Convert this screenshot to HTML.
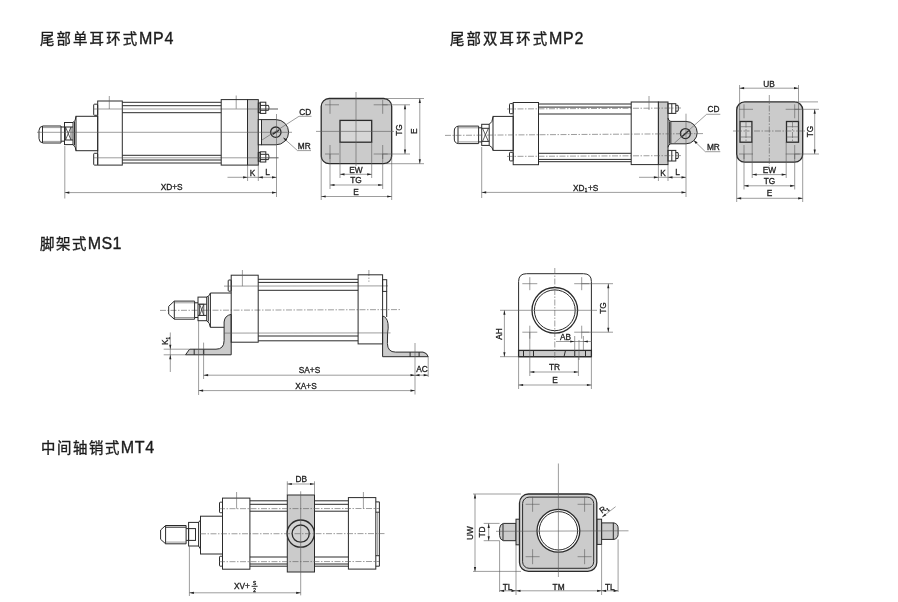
<!DOCTYPE html>
<html><head><meta charset="utf-8"><title>Cylinder mounting types</title>
<style>
html,body{margin:0;padding:0;background:#fff;}
body{width:898px;height:602px;overflow:hidden;font-family:"Liberation Sans",sans-serif;}
svg{display:block;will-change:transform;}
svg text{font-family:"Liberation Sans","Noto Sans CJK SC",sans-serif;fill:#222;stroke:#222;stroke-width:0.3;}
.m{stroke:#2b2b2b;stroke-width:1;}
.m2{stroke:#2b2b2b;stroke-width:1.3;}
.t{stroke:#5a5a5a;stroke-width:0.6;fill:none;}
.cl{stroke:#5a5a5a;stroke-width:0.6;fill:none;stroke-dasharray:6 1.5 1.5 1.5;}
.a{fill:#222;stroke:none;}
.x{stroke:#333;stroke-width:0.8;fill:none;}
svg text.ti{fill:#1c1c1c;stroke:#1c1c1c;stroke-width:0.35;}
</style></head><body>
<svg width="898" height="602" viewBox="0 0 898 602">
<rect x="0" y="0" width="898" height="602" fill="#ffffff"/>
<text class="ti" x="40" y="43.9" font-size="14.4" text-anchor="start" letter-spacing="2.15">尾部单耳环式</text>
<text class="ti" x="139.1" y="43.9" font-size="16" text-anchor="start" letter-spacing="0.7">MP4</text>
<text class="ti" x="450" y="43.9" font-size="14.4" text-anchor="start" letter-spacing="2.15">尾部双耳环式</text>
<text class="ti" x="549.1" y="43.9" font-size="16" text-anchor="start" letter-spacing="0.7">MP2</text>
<text class="ti" x="40" y="248.9" font-size="14.4" text-anchor="start" letter-spacing="1.6">脚架式</text>
<text class="ti" x="87.8" y="248.9" font-size="16" text-anchor="start" letter-spacing="0.3">MS1</text>
<text class="ti" x="41" y="453.0" font-size="14.4" text-anchor="start" letter-spacing="1.6">中间轴销式</text>
<text class="ti" x="120.8" y="453.0" font-size="16" text-anchor="start" letter-spacing="0.7">MT4</text>
<path class="m" d="M61,126 L43,126 Q39,126.5 39,130.5 L39,138.5 Q39,142.5 43,143 L61,143 Z" fill="none"/>
<line class="m" x1="42.5" y1="126" x2="42.5" y2="143" />
<line class="t" x1="43" y1="127.6" x2="61" y2="127.6" />
<line class="t" x1="43" y1="141.4" x2="61" y2="141.4" />
<line class="m" x1="61" y1="127" x2="64.5" y2="127" />
<line class="m" x1="61" y1="141.2" x2="64.5" y2="141.2" />
<rect class="m" x="64.5" y="122.5" width="8.5" height="22.1" fill="none" rx="0"/>
<line class="m" x1="64.5" y1="127" x2="73" y2="127" />
<line class="m" x1="64.5" y1="140" x2="73" y2="140" />
<line class="x" x1="65.5" y1="127" x2="71" y2="140" />
<line class="x" x1="71" y1="127" x2="65.5" y2="140" />
<line class="x" x1="71" y1="127" x2="71" y2="140" />
<line class="x" x1="65.5" y1="127" x2="65.5" y2="140" />
<path class="m" d="M73,122.5 Q75.8,121 76,116.3 M73,144.6 Q75.8,146.5 76,150.7" fill="none"/>
<line class="m" x1="74.5" y1="121.5" x2="74.5" y2="145.3" />
<rect class="m" x="76" y="116.3" width="21.7" height="34.4" fill="none" rx="0"/>
<rect class="m" x="97.7" y="101" width="24.6" height="64.1" fill="none" rx="0"/>
<rect class="m" x="93.7" y="104.2" width="4.0" height="11.1" fill="none" rx="0.8"/>
<rect class="m" x="93.7" y="153.3" width="4.0" height="11.8" fill="none" rx="0.8"/>
<line class="m" x1="122.3" y1="102.3" x2="221.2" y2="102.3" />
<line class="m" x1="122.3" y1="105.7" x2="221.2" y2="105.7" />
<line class="m" x1="122.3" y1="112.7" x2="221.2" y2="112.7" />
<line class="m" x1="122.3" y1="155.3" x2="221.2" y2="155.3" />
<line class="m" x1="122.3" y1="160" x2="221.2" y2="160" />
<line class="m" x1="122.3" y1="163" x2="221.2" y2="163" />
<line class="t" x1="93" y1="109" x2="278" y2="109" />
<line class="t" x1="93" y1="157.8" x2="278.5" y2="157.8" />
<line class="t" x1="109.3" y1="96" x2="109.3" y2="109" />
<line class="t" x1="236.2" y1="95.5" x2="236.2" y2="108.7" />
<rect class="m" x="221.2" y="99.6" width="26.3" height="65.5" fill="none" rx="0"/>
<rect class="m" x="247.5" y="99.6" width="10.8" height="65.5" fill="#cbcbcb" rx="0"/>
<rect class="m" x="258.3" y="103.0" width="1.9" height="9.6" fill="none" rx="0"/>
<rect class="m" x="260.2" y="102.2" width="5.6" height="11.2" fill="none" rx="0"/>
<line class="m" x1="260.2" y1="105.4" x2="265.8" y2="105.4" />
<line class="m" x1="260.2" y1="110.3" x2="265.8" y2="110.3" />
<path class="m" d="M265.8,105.4 L268.5,105.4 Q269.5,107.85 268.5,110.3 L265.8,110.3" fill="none"/>
<rect class="m" x="258.3" y="152.60000000000002" width="1.9" height="8.6" fill="none" rx="0"/>
<rect class="m" x="260.2" y="151.8" width="5.6" height="10.2" fill="none" rx="0"/>
<line class="m" x1="260.2" y1="154.3" x2="265.8" y2="154.3" />
<line class="m" x1="260.2" y1="159.6" x2="265.8" y2="159.6" />
<path class="m" d="M265.8,154.3 L268.5,154.3 Q269.5,156.95 268.5,159.6 L265.8,159.6" fill="none"/>
<path class="m" d="M261.5,119.6 L276,119.6 A12.6,12.6 0 0 1 276,144.8 L261.5,144.8 Z" fill="#cbcbcb"/>
<rect class="m" x="258.3" y="119.6" width="3.2" height="25.2" fill="#fff" rx="0"/>
<circle class="m2" cx="275.8" cy="132.2" r="5.2" fill="#cbcbcb"/>
<line class="t" x1="37" y1="132.3" x2="292" y2="132.3" />
<line class="t" x1="247.5" y1="109" x2="278" y2="109" />
<line class="t" x1="247.5" y1="157.8" x2="278.5" y2="157.8" />
<line class="t" x1="261.5" y1="140.3" x2="299" y2="116.3" />
<line class="t" x1="299" y1="116.3" x2="311.5" y2="116.3" />
<line class="m2" x1="272.6" y1="134.4" x2="279" y2="130.2" />
<text x="305.3" y="114.5" font-size="8.3" text-anchor="middle" >CD</text>
<line class="t" x1="283.5" y1="138" x2="297.5" y2="150.6" />
<line class="t" x1="297.5" y1="150.6" x2="311" y2="150.6" />
<polygon class="a" points="283.2,137.6 287.2,139.4 285.6,141.2"/>
<text x="304.3" y="148.8" font-size="8.3" text-anchor="middle" >MR</text>
<line class="t" x1="276.5" y1="114" x2="276.5" y2="197" />
<line class="t" x1="247.6" y1="165" x2="247.6" y2="181" />
<line class="t" x1="258.3" y1="165" x2="258.3" y2="181" />
<line class="t" x1="227.5" y1="177.3" x2="247.6" y2="177.3" />
<polygon class="a" points="247.6,177.3 243.1,176.20000000000002 243.1,178.4"/>
<line class="t" x1="247.6" y1="177.3" x2="276.5" y2="177.3" />
<polygon class="a" points="258.3,177.3 262.8,176.20000000000002 262.8,178.4"/>
<polygon class="a" points="276.5,177.3 272.0,176.20000000000002 272.0,178.4"/>
<text x="252.6" y="175.6" font-size="8.3" text-anchor="middle" >K</text>
<text x="267.6" y="175" font-size="8.3" text-anchor="middle" >L</text>
<line class="t" x1="64.8" y1="146" x2="64.8" y2="198.5" />
<line class="t" x1="64.8" y1="192.6" x2="276.5" y2="192.6" />
<polygon class="a" points="64.8,192.6 69.3,191.5 69.3,193.7"/>
<polygon class="a" points="276.5,192.6 272.0,191.5 272.0,193.7"/>
<text x="171.7" y="190.3" font-size="8.3" text-anchor="middle" >XD+S</text>
<rect class="m2" x="321.2" y="98.5" width="70.5" height="65.2" fill="#cbcbcb" rx="8"/>
<rect class="m2" x="340" y="120.4" width="31.7" height="21.8" fill="#d6d6d6" rx="0"/>
<line class="t" x1="356" y1="92" x2="356" y2="166" />
<line class="t" x1="316" y1="131.4" x2="394" y2="131.4" />
<line class="t" x1="325" y1="104.8" x2="339" y2="104.8" />
<line class="t" x1="330" y1="99.8" x2="330" y2="113.8" />
<line class="t" x1="373.7" y1="104.8" x2="387.7" y2="104.8" />
<line class="t" x1="382.7" y1="99.8" x2="382.7" y2="113.8" />
<line class="t" x1="325" y1="154" x2="339" y2="154" />
<line class="t" x1="330" y1="145" x2="330" y2="159" />
<line class="t" x1="373.7" y1="154" x2="387.7" y2="154" />
<line class="t" x1="382.7" y1="145" x2="382.7" y2="159" />
<line class="t" x1="382.7" y1="104.8" x2="410" y2="104.8" />
<line class="t" x1="382.7" y1="154" x2="410" y2="154" />
<line class="t" x1="385" y1="98.5" x2="424" y2="98.5" />
<line class="t" x1="385" y1="163.7" x2="424" y2="163.7" />
<line class="t" x1="405" y1="104.8" x2="405" y2="154" />
<polygon class="a" points="405,104.8 403.9,109.3 406.1,109.3"/>
<polygon class="a" points="405,154 403.9,149.5 406.1,149.5"/>
<line class="t" x1="419.8" y1="98.5" x2="419.8" y2="163.7" />
<polygon class="a" points="419.8,98.5 418.7,103.0 420.90000000000003,103.0"/>
<polygon class="a" points="419.8,163.7 418.7,159.2 420.90000000000003,159.2"/>
<text x="401.8" y="130" font-size="8.3" text-anchor="middle" transform="rotate(-90 401.8 130)" >TG</text>
<text x="416.8" y="131.2" font-size="8.3" text-anchor="middle" transform="rotate(-90 416.8 131.2)" >E</text>
<line class="t" x1="340" y1="142.2" x2="340" y2="178" />
<line class="t" x1="371.7" y1="142.2" x2="371.7" y2="178" />
<line class="t" x1="330" y1="154" x2="330" y2="189" />
<line class="t" x1="382.7" y1="154" x2="382.7" y2="189" />
<line class="t" x1="321.2" y1="156" x2="321.2" y2="200" />
<line class="t" x1="391.7" y1="156" x2="391.7" y2="200" />
<line class="t" x1="340" y1="174.3" x2="371.7" y2="174.3" />
<polygon class="a" points="340,174.3 344.5,173.20000000000002 344.5,175.4"/>
<polygon class="a" points="371.7,174.3 367.2,173.20000000000002 367.2,175.4"/>
<line class="t" x1="330" y1="185" x2="382.7" y2="185" />
<polygon class="a" points="330,185 334.5,183.9 334.5,186.1"/>
<polygon class="a" points="382.7,185 378.2,183.9 378.2,186.1"/>
<line class="t" x1="321.2" y1="196.5" x2="391.7" y2="196.5" />
<polygon class="a" points="321.2,196.5 325.7,195.4 325.7,197.6"/>
<polygon class="a" points="391.7,196.5 387.2,195.4 387.2,197.6"/>
<text x="356" y="172.6" font-size="8.3" text-anchor="middle" >EW</text>
<text x="356" y="183.3" font-size="8.3" text-anchor="middle" >TG</text>
<text x="356" y="194.8" font-size="8.3" text-anchor="middle" >E</text>
<path class="m" d="M478.6,126.1 L458.5,126.1 Q454.3,126.6 454.3,131 L454.3,139 Q454.3,143.2 458.5,143.6 L478.6,143.6 Z" fill="none"/>
<line class="m" x1="458" y1="126.1" x2="458" y2="143.6" />
<line class="t" x1="458.5" y1="127.8" x2="478.6" y2="127.8" />
<line class="t" x1="458.5" y1="141.9" x2="478.6" y2="141.9" />
<line class="m" x1="478.6" y1="127.8" x2="481.7" y2="127.8" />
<line class="m" x1="478.6" y1="141.9" x2="481.7" y2="141.9" />
<rect class="m" x="481.7" y="124.3" width="7.5" height="21.1" fill="none" rx="0"/>
<line class="m" x1="481.7" y1="128.3" x2="489.2" y2="128.3" />
<line class="m" x1="481.7" y1="141.4" x2="489.2" y2="141.4" />
<line class="x" x1="482.5" y1="128.3" x2="488.4" y2="141.4" />
<line class="x" x1="488.4" y1="128.3" x2="482.5" y2="141.4" />
<path class="m" d="M489.2,124.3 Q492.6,122.5 493,117 M489.2,145.4 Q492.6,147 493,150" fill="none"/>
<rect class="m" x="493" y="116.4" width="20.2" height="34.0" fill="none" rx="0"/>
<rect class="m" x="513.2" y="102.5" width="25.3" height="62.2" fill="none" rx="0"/>
<rect class="m" x="509.5" y="103.6" width="3.7" height="10.1" fill="none" rx="0.8"/>
<rect class="m" x="509.5" y="152.3" width="3.7" height="8.6" fill="none" rx="0.8"/>
<line class="m" x1="538.5" y1="104" x2="631.2" y2="104" />
<line class="m" x1="538.5" y1="107.1" x2="631.2" y2="107.1" />
<line class="m" x1="538.5" y1="114" x2="631.2" y2="114" />
<line class="m" x1="538.5" y1="153.3" x2="631.2" y2="153.3" />
<line class="m" x1="538.5" y1="159.4" x2="631.2" y2="159.4" />
<line class="m" x1="538.5" y1="161.7" x2="631.2" y2="161.7" />
<rect class="m" x="631.2" y="102" width="27.2" height="62.6" fill="none" rx="0"/>
<rect class="m" x="658.4" y="102" width="9.6" height="62.6" fill="#cbcbcb" rx="0"/>
<rect class="m" x="668" y="103.7" width="7.8" height="9.7" fill="none" rx="0"/>
<line class="m" x1="671.8" y1="103.7" x2="671.8" y2="113.4" />
<path class="m" d="M675.8,105.3 L678,105.3 Q679,108.25 678,111.2 L675.8,111.2" fill="none"/>
<rect class="m" x="668" y="150.4" width="7.8" height="10.6" fill="none" rx="0"/>
<line class="m" x1="671.8" y1="150.4" x2="671.8" y2="161" />
<path class="m" d="M675.8,152.6 L678,152.6 Q679,155.55 678,158.5 L675.8,158.5" fill="none"/>
<path class="m" d="M670.8,121.4 L686,121.4 A11.2,11.2 0 0 1 686,143.8 L670.8,143.8 Z" fill="#cbcbcb"/>
<path class="m" d="M668,118 Q668.4,121 670.8,121.4 M668,147.3 Q668.4,144.2 670.8,143.8" fill="none"/>
<line class="m" x1="669.4" y1="121.4" x2="669.4" y2="143.8" />
<circle class="m2" cx="685.4" cy="133.6" r="5" fill="#cbcbcb"/>
<line class="cl" x1="445" y1="135.4" x2="704" y2="133.6" />
<line class="cl" x1="507" y1="109" x2="682" y2="108" />
<line class="cl" x1="507" y1="156.4" x2="682" y2="155.6" />
<line class="t" x1="649" y1="96" x2="649" y2="110" />
<line class="t" x1="674.2" y1="143.3" x2="706.6" y2="114.3" />
<line class="t" x1="706.6" y1="114.3" x2="720.3" y2="114.3" />
<line class="m2" x1="682.2" y1="136.5" x2="688.6" y2="130.7" />
<text x="713.4" y="111.8" font-size="8.3" text-anchor="middle" >CD</text>
<line class="t" x1="693.9" y1="140.5" x2="705.3" y2="151.7" />
<line class="t" x1="705.3" y1="151.7" x2="720.3" y2="151.7" />
<polygon class="a" points="693.6,140.2 697.6,142.2 695.8,144"/>
<text x="713.4" y="149.6" font-size="8.3" text-anchor="middle" >MR</text>
<line class="t" x1="686" y1="113.7" x2="686" y2="197" />
<line class="t" x1="658.4" y1="164.6" x2="658.4" y2="181" />
<line class="t" x1="668" y1="164.6" x2="668" y2="181" />
<line class="t" x1="639" y1="177.3" x2="658.4" y2="177.3" />
<polygon class="a" points="658.4,177.3 653.9,176.20000000000002 653.9,178.4"/>
<line class="t" x1="658.4" y1="177.3" x2="686" y2="177.3" />
<polygon class="a" points="668,177.3 672.5,176.20000000000002 672.5,178.4"/>
<polygon class="a" points="686,177.3 681.5,176.20000000000002 681.5,178.4"/>
<text x="663" y="175.6" font-size="8.3" text-anchor="middle" >K</text>
<text x="677.5" y="175" font-size="8.3" text-anchor="middle" >L</text>
<line class="t" x1="481.7" y1="147" x2="481.7" y2="198" />
<line class="t" x1="481.7" y1="192.4" x2="686" y2="192.4" />
<polygon class="a" points="481.7,192.4 486.2,191.3 486.2,193.5"/>
<polygon class="a" points="686,192.4 681.5,191.3 681.5,193.5"/>
<text x="573" y="190.5" font-size="8.3" text-anchor="start">XD</text><text x="584.8" y="192" font-size="4.5" text-anchor="start">1</text><text x="588" y="190.5" font-size="8.3" text-anchor="start">+S</text>
<rect class="m2" x="736.7" y="101.9" width="66.0" height="60.3" fill="#cbcbcb" rx="8"/>
<rect class="m2" x="740" y="121.5" width="11.9" height="20.7" fill="#d6d6d6" rx="0"/>
<rect class="m2" x="786.5" y="121.5" width="12.0" height="20.7" fill="#d6d6d6" rx="0"/>
<line class="cl" x1="769.3" y1="95" x2="769.3" y2="166" />
<line class="cl" x1="733" y1="131" x2="806" y2="131" />
<line class="t" x1="740" y1="126.7" x2="751.9" y2="126.7" />
<line class="t" x1="740" y1="137" x2="751.9" y2="137" />
<line class="t" x1="786.5" y1="126.7" x2="798.5" y2="126.7" />
<line class="t" x1="786.5" y1="137" x2="798.5" y2="137" />
<line class="cl" x1="746" y1="121.5" x2="746" y2="142.2" />
<line class="cl" x1="792.5" y1="121.5" x2="792.5" y2="142.2" />
<line class="t" x1="739" y1="109.3" x2="753" y2="109.3" />
<line class="t" x1="744" y1="104.3" x2="744" y2="118.3" />
<line class="t" x1="785.7" y1="109.3" x2="799.7" y2="109.3" />
<line class="t" x1="794.7" y1="104.3" x2="794.7" y2="118.3" />
<line class="t" x1="739" y1="154" x2="753" y2="154" />
<line class="t" x1="744" y1="145" x2="744" y2="159" />
<line class="t" x1="785.7" y1="154" x2="799.7" y2="154" />
<line class="t" x1="794.7" y1="145" x2="794.7" y2="159" />
<line class="t" x1="739.6" y1="85" x2="739.6" y2="121.5" />
<line class="t" x1="798.5" y1="85" x2="798.5" y2="121.5" />
<line class="t" x1="739.6" y1="88.2" x2="798.5" y2="88.2" />
<polygon class="a" points="739.6,88.2 744.1,87.10000000000001 744.1,89.3"/>
<polygon class="a" points="798.5,88.2 794.0,87.10000000000001 794.0,89.3"/>
<text x="769" y="86.5" font-size="8.3" text-anchor="middle" >UB</text>
<line class="t" x1="796" y1="101.9" x2="818" y2="101.9" />
<line class="t" x1="794.7" y1="109.3" x2="819" y2="109.3" />
<line class="t" x1="794.7" y1="154" x2="819" y2="154" />
<line class="t" x1="814.7" y1="109.3" x2="814.7" y2="154" />
<polygon class="a" points="814.7,109.3 813.6,113.8 815.8000000000001,113.8"/>
<polygon class="a" points="814.7,154 813.6,149.5 815.8000000000001,149.5"/>
<text x="812.8" y="131.5" font-size="8.3" text-anchor="middle" transform="rotate(-90 812.8 131.5)" >TG</text>
<line class="t" x1="752.2" y1="142.2" x2="752.2" y2="178" />
<line class="t" x1="786.2" y1="142.2" x2="786.2" y2="178" />
<line class="t" x1="744" y1="154" x2="744" y2="189.5" />
<line class="t" x1="794.7" y1="154" x2="794.7" y2="189.5" />
<line class="t" x1="736.7" y1="155" x2="736.7" y2="202" />
<line class="t" x1="802.7" y1="155" x2="802.7" y2="202" />
<line class="t" x1="752.2" y1="174.6" x2="786.2" y2="174.6" />
<polygon class="a" points="752.2,174.6 756.7,173.5 756.7,175.7"/>
<polygon class="a" points="786.2,174.6 781.7,173.5 781.7,175.7"/>
<line class="t" x1="744" y1="185.8" x2="794.7" y2="185.8" />
<polygon class="a" points="744,185.8 748.5,184.70000000000002 748.5,186.9"/>
<polygon class="a" points="794.7,185.8 790.2,184.70000000000002 790.2,186.9"/>
<line class="t" x1="736.7" y1="198.3" x2="802.7" y2="198.3" />
<polygon class="a" points="736.7,198.3 741.2,197.20000000000002 741.2,199.4"/>
<polygon class="a" points="802.7,198.3 798.2,197.20000000000002 798.2,199.4"/>
<text x="769.5" y="172.8" font-size="8.3" text-anchor="middle" >EW</text>
<text x="769.5" y="184" font-size="8.3" text-anchor="middle" >TG</text>
<text x="769.5" y="196.4" font-size="8.3" text-anchor="middle" >E</text>
<line class="cl" x1="160" y1="310.4" x2="401" y2="309.6" />
<path class="m" d="M231.2,314.4 Q224.6,315.5 224.1,322 L224.1,340.5 Q224.1,349.2 216,349.2 L189.6,349.2 L185.5,354.8 L231.2,354.8 Z" fill="#cbcbcb"/>
<path class="m" d="M382.6,316 Q387,317 388,323.5 Q388.6,328 387.6,333 L387.4,343.5 Q387.6,352.1 395.5,352.1 L423,352.1 Q427,352.8 428.2,356.7 L382.6,356.7 Z" fill="#cbcbcb"/>
<path class="m" d="M194.6,301.1 L174.3,301.1 L168.7,306.3 L168.7,314.2 L174.3,319.2 L194.6,319.2 Z" fill="none"/>
<line class="m" x1="174.3" y1="301.1" x2="174.3" y2="319.2" />
<line class="t" x1="174.3" y1="302.8" x2="194.6" y2="302.8" />
<line class="t" x1="174.3" y1="317.5" x2="194.6" y2="317.5" />
<line class="m" x1="194.6" y1="302.8" x2="198" y2="302.8" />
<line class="m" x1="194.6" y1="317.5" x2="198" y2="317.5" />
<rect class="m" x="198" y="297.1" width="8.7" height="23.6" fill="none" rx="0"/>
<line class="m" x1="198" y1="304.2" x2="206.7" y2="304.2" />
<line class="m" x1="198" y1="315.4" x2="206.7" y2="315.4" />
<rect class="x" x="199.6" y="304.2" width="4.2" height="11.2" fill="none" rx="0"/>
<line class="x" x1="199.6" y1="304.2" x2="203.8" y2="315.4" />
<line class="x" x1="203.8" y1="304.2" x2="199.6" y2="315.4" />
<path class="m" d="M206.7,297.1 Q209.8,296 210.4,293 M206.7,320.7 Q209.8,322.5 210.4,327.3" fill="none"/>
<line class="m" x1="208.3" y1="296.5" x2="208.3" y2="321.6" />
<path class="m" d="M210.4,293 L231.2,293 M210.4,293 L210.4,327.3 L224.1,327.3" fill="none"/>
<rect class="m" x="231.2" y="275.2" width="27.0" height="67.0" fill="none" rx="0"/>
<rect class="m" x="228.2" y="280" width="3.0" height="11.2" fill="none" rx="0.8"/>
<line class="m" x1="258.2" y1="279.3" x2="358.1" y2="279.3" />
<line class="m" x1="258.2" y1="282.4" x2="358.1" y2="282.4" />
<line class="m" x1="258.2" y1="290.3" x2="358.1" y2="290.3" />
<line class="m" x1="258.2" y1="336" x2="358.1" y2="336" />
<line class="m" x1="258.2" y1="340.8" x2="358.1" y2="340.8" />
<line class="t" x1="224" y1="286.1" x2="388" y2="285.9" />
<line class="t" x1="224.1" y1="333.1" x2="390.5" y2="332.9" />
<line class="t" x1="242.4" y1="270" x2="242.4" y2="286.1" />
<line class="cl" x1="368.9" y1="270" x2="368.9" y2="281.8" />
<rect class="m" x="358.1" y="274.8" width="24.5" height="69.1" fill="none" rx="0"/>
<rect class="m" x="382.6" y="279.7" width="4.1" height="11.7" fill="none" rx="0"/>
<line class="m" x1="386.7" y1="291.4" x2="386.7" y2="317" />
<line class="m" x1="194.2" y1="349.2" x2="194.2" y2="354.8" />
<line class="m2" x1="203.6" y1="349.2" x2="203.6" y2="354.8" />
<line class="m" x1="410.1" y1="352.1" x2="410.1" y2="356.7" />
<line class="m" x1="419.1" y1="352.1" x2="419.1" y2="356.7" />
<line class="t" x1="198.6" y1="321" x2="198.6" y2="395" />
<line class="t" x1="203.6" y1="342.6" x2="203.6" y2="379" />
<line class="t" x1="415" y1="343" x2="415" y2="394.5" />
<line class="t" x1="428.2" y1="356.7" x2="428.2" y2="377" />
<line class="t" x1="163.7" y1="349.2" x2="189" y2="349.2" />
<line class="t" x1="163.7" y1="354.8" x2="185.5" y2="354.8" />
<line class="t" x1="170.3" y1="332.5" x2="170.3" y2="372" />
<polygon class="a" points="170.3,349.2 169.20000000000002,344.7 171.4,344.7"/>
<polygon class="a" points="170.3,354.8 169.20000000000002,359.3 171.4,359.3"/>
<text x="168" y="345" font-size="8.3" text-anchor="start" transform="rotate(-90 168 345)">K<tspan font-size="4.5" dy="1.5">1</tspan></text>
<line class="t" x1="203.6" y1="375.2" x2="415" y2="375.2" />
<polygon class="a" points="203.6,375.2 208.1,374.09999999999997 208.1,376.3"/>
<polygon class="a" points="415,375.2 410.5,374.09999999999997 410.5,376.3"/>
<line class="t" x1="415" y1="375.2" x2="428.2" y2="375.2" />
<polygon class="a" points="415,375.2 419.5,374.09999999999997 419.5,376.3"/>
<polygon class="a" points="428.2,375.2 423.7,374.09999999999997 423.7,376.3"/>
<text x="309.5" y="372.6" font-size="8.3" text-anchor="middle" >SA+S</text>
<text x="422" y="372.3" font-size="8.3" text-anchor="middle" >AC</text>
<line class="t" x1="198.6" y1="390.6" x2="415" y2="390.6" />
<polygon class="a" points="198.6,390.6 203.1,389.5 203.1,391.70000000000005"/>
<polygon class="a" points="415,390.6 410.5,389.5 410.5,391.70000000000005"/>
<text x="306" y="388.6" font-size="8.3" text-anchor="middle" >XA+S</text>
<path class="m" d="M518.6,356.7 L518.6,281.5 Q518.6,273.7 526.5,273.7 L583.5,273.7 Q591.4,273.7 591.4,281.5 L591.4,356.7 Z" fill="#fff"/>
<rect class="m2" x="518.6" y="350.4" width="72.8" height="6.3" fill="#cbcbcb" rx="0"/>
<circle class="m2" cx="554.8" cy="310.3" r="22.8" fill="#fff"/>
<circle class="m" cx="554.8" cy="310.3" r="20.4" fill="#fff"/>
<line class="cl" x1="554.8" y1="268" x2="554.8" y2="360" />
<line class="t" x1="500" y1="310.3" x2="597" y2="310.3" />
<line class="t" x1="522.3" y1="283.7" x2="537.3" y2="283.7" />
<line class="t" x1="529.8" y1="277.2" x2="529.8" y2="290.2" />
<line class="t" x1="574.2" y1="283.7" x2="589.2" y2="283.7" />
<line class="t" x1="581.7" y1="277.2" x2="581.7" y2="290.2" />
<line class="t" x1="522.3" y1="332.2" x2="537.3" y2="332.2" />
<line class="t" x1="529.8" y1="325.7" x2="529.8" y2="338.7" />
<line class="t" x1="574.2" y1="332.2" x2="589.2" y2="332.2" />
<line class="t" x1="581.7" y1="325.7" x2="581.7" y2="338.7" />
<line class="m" x1="523.5" y1="350.4" x2="523.5" y2="356.7" />
<line class="m" x1="533.5" y1="350.4" x2="533.5" y2="356.7" />
<line class="m" x1="565.5" y1="350.4" x2="564" y2="356.7" />
<line class="m" x1="574.7" y1="350.4" x2="574.7" y2="356.7" />
<line class="m" x1="585.5" y1="350.4" x2="585.5" y2="356.7" />
<line class="t" x1="581.7" y1="283.7" x2="613" y2="283.7" />
<line class="t" x1="581.7" y1="332.2" x2="613" y2="332.2" />
<line class="t" x1="608.3" y1="283.7" x2="608.3" y2="332.2" />
<polygon class="a" points="608.3,283.7 607.1999999999999,288.2 609.4,288.2"/>
<polygon class="a" points="608.3,332.2 607.1999999999999,327.7 609.4,327.7"/>
<text x="606.3" y="308" font-size="8.3" text-anchor="middle" transform="rotate(-90 606.3 308)" >TG</text>
<line class="t" x1="500" y1="356.7" x2="518.6" y2="356.7" />
<line class="t" x1="504.4" y1="310.3" x2="504.4" y2="356.7" />
<polygon class="a" points="504.4,310.3 503.29999999999995,314.8 505.5,314.8"/>
<polygon class="a" points="504.4,356.7 503.29999999999995,352.2 505.5,352.2"/>
<text x="502.3" y="334" font-size="8.3" text-anchor="middle" transform="rotate(-90 502.3 334)" >AH</text>
<line class="t" x1="574.7" y1="336" x2="574.7" y2="356.7" />
<line class="t" x1="583.4" y1="336" x2="583.4" y2="350" />
<line class="t" x1="579" y1="340" x2="579" y2="360" />
<line class="t" x1="556" y1="341.5" x2="574.7" y2="341.5" />
<polygon class="a" points="574.7,341.5 570.2,340.4 570.2,342.6"/>
<line class="t" x1="574.7" y1="341.5" x2="592" y2="341.5" />
<polygon class="a" points="583.4,341.5 587.9,340.4 587.9,342.6"/>
<text x="565.5" y="339.5" font-size="8.3" text-anchor="middle" >AB</text>
<line class="t" x1="529.8" y1="332.2" x2="529.8" y2="376" />
<line class="t" x1="578.4" y1="356.7" x2="578.4" y2="376" />
<line class="t" x1="529.8" y1="372" x2="578.4" y2="372" />
<polygon class="a" points="529.8,372 534.3,370.9 534.3,373.1"/>
<polygon class="a" points="578.4,372 573.9,370.9 573.9,373.1"/>
<text x="554.5" y="370" font-size="8.3" text-anchor="middle" >TR</text>
<line class="t" x1="518.6" y1="356.7" x2="518.6" y2="389" />
<line class="t" x1="591.4" y1="356.7" x2="591.4" y2="389" />
<line class="t" x1="518.6" y1="385" x2="591.4" y2="385" />
<polygon class="a" points="518.6,385 523.1,383.9 523.1,386.1"/>
<polygon class="a" points="591.4,385 586.9,383.9 586.9,386.1"/>
<text x="555" y="383" font-size="8.3" text-anchor="middle" >E</text>
<path class="m" d="M186.1,525.5 L165.6,525.5 L160.6,530 L160.6,539.3 L165.6,543.8 L186.1,543.8 Z" fill="none"/>
<line class="m" x1="165.6" y1="525.5" x2="165.6" y2="543.8" />
<line class="m" x1="165.6" y1="527.2" x2="186.1" y2="527.2" />
<line class="t" x1="165.6" y1="542.1" x2="186.1" y2="542.1" />
<line class="m" x1="186.1" y1="528.6" x2="188.6" y2="528.6" />
<line class="m" x1="186.1" y1="540.4" x2="188.6" y2="540.4" />
<rect class="m" x="188.6" y="522.4" width="10.0" height="23.6" fill="none" rx="0"/>
<rect class="m" x="188.6" y="528.6" width="6.9" height="11.8" fill="none" rx="0"/>
<line class="m" x1="198.6" y1="522.4" x2="200.5" y2="520" />
<line class="m" x1="198.6" y1="546" x2="200.5" y2="549" />
<rect class="m" x="200.5" y="516.2" width="22.0" height="37.8" fill="none" rx="0"/>
<rect class="m" x="222.5" y="498.1" width="27.4" height="71.1" fill="none" rx="0"/>
<rect class="m" x="219.5" y="502.2" width="3.0" height="10.5" fill="none" rx="0.8"/>
<rect class="m" x="219.5" y="556.3" width="3.0" height="9.9" fill="none" rx="0.8"/>
<line class="m" x1="249.9" y1="500.8" x2="287.3" y2="500.8" />
<line class="m" x1="314.5" y1="500.8" x2="348.4" y2="500.8" />
<line class="m" x1="249.9" y1="504.3" x2="287.3" y2="504.3" />
<line class="m" x1="314.5" y1="504.3" x2="348.4" y2="504.3" />
<line class="m" x1="249.9" y1="511.2" x2="287.3" y2="511.2" />
<line class="m" x1="314.5" y1="511.2" x2="348.4" y2="511.2" />
<line class="m" x1="249.9" y1="557" x2="287.3" y2="557" />
<line class="m" x1="314.5" y1="557" x2="348.4" y2="557" />
<line class="m" x1="249.9" y1="564" x2="287.3" y2="564" />
<line class="m" x1="314.5" y1="564" x2="348.4" y2="564" />
<line class="m" x1="249.9" y1="566.2" x2="287.3" y2="566.2" />
<line class="m" x1="314.5" y1="566.2" x2="348.4" y2="566.2" />
<rect class="m" x="348.4" y="497.6" width="27.4" height="71.5" fill="none" rx="0"/>
<path class="m" d="M375.8,501.9 L379.4,501.9 L379.4,566.2 L375.8,566.2" fill="none"/>
<line class="m" x1="375.8" y1="512.2" x2="379.4" y2="512.2" />
<line class="m" x1="375.8" y1="555.7" x2="379.4" y2="555.7" />
<line class="t" x1="377.6" y1="512.2" x2="377.6" y2="555.7" />
<rect class="m" x="287.3" y="495" width="27.2" height="77" fill="#cbcbcb" rx="0"/>
<circle class="m2" cx="300.7" cy="533.6" r="13.6" fill="#d2d2d2"/>
<circle class="m2" cx="300.7" cy="533.6" r="8.6" fill="#d2d2d2"/>
<line class="cl" x1="200" y1="533.8" x2="385" y2="533.6" />
<line class="cl" x1="219" y1="508.7" x2="379" y2="508.5" />
<line class="cl" x1="219" y1="561.7" x2="379" y2="561.5" />
<line class="t" x1="236.6" y1="492" x2="236.6" y2="508.7" />
<line class="t" x1="363.4" y1="492" x2="363.4" y2="508.5" />
<line class="t" x1="300.7" y1="491.3" x2="300.7" y2="595.4" />
<line class="t" x1="287.3" y1="481.3" x2="287.3" y2="495" />
<line class="t" x1="314.5" y1="481.3" x2="314.5" y2="495" />
<line class="t" x1="287.3" y1="484" x2="314.5" y2="484" />
<polygon class="a" points="287.3,484 291.8,482.9 291.8,485.1"/>
<polygon class="a" points="314.5,484 310.0,482.9 310.0,485.1"/>
<text x="301.2" y="482" font-size="8.3" text-anchor="middle" >DB</text>
<line class="t" x1="189.4" y1="546" x2="189.4" y2="596" />
<line class="t" x1="189.4" y1="592.8" x2="300.7" y2="592.8" />
<polygon class="a" points="189.4,592.8 193.9,591.6999999999999 193.9,593.9"/>
<polygon class="a" points="300.7,592.8 296.2,591.6999999999999 296.2,593.9"/>
<text x="234" y="588.9" font-size="8.3" text-anchor="start" >XV+</text>
<text x="254.6" y="585.3" font-size="4.8" text-anchor="middle">S</text><text x="254.6" y="591.5" font-size="4.8" text-anchor="middle">2</text>
<line class="m" x1="251.6" y1="586.3" x2="257.6" y2="586.3" />
<path class="m" d="M516,523.4 L503.5,523.4 Q499.6,524.5 499.6,528.5 L499.6,535.6 Q499.6,539.6 503.5,540.7 L516,540.7 Z" fill="#cbcbcb"/>
<line class="m" x1="503" y1="523.4" x2="503" y2="540.7" />
<path class="m" d="M601.6,522.9 L614,522.9 Q618.1,524 618.1,528 L618.1,534.3 Q618.1,538.3 614,539.4 L601.6,539.4 Z" fill="#cbcbcb"/>
<line class="m" x1="613.3" y1="522.9" x2="613.3" y2="539.4" />
<rect class="m" x="516" y="519.2" width="3.5" height="25.6" fill="#cbcbcb" rx="0"/>
<rect class="m" x="596.8" y="519.2" width="4.8" height="25.2" fill="#cbcbcb" rx="0"/>
<rect class="m2" x="519.5" y="494" width="77.3" height="77.4" fill="#d2d2d2" rx="9"/>
<rect class="m" x="522.6" y="497.1" width="71.1" height="71.2" fill="#cbcbcb" rx="6.5"/>
<circle class="m2" cx="558.4" cy="530.8" r="21.4" fill="#fff"/>
<circle class="m" cx="558.4" cy="530.8" r="19.2" fill="#fff"/>
<line class="t" x1="558.4" y1="463.5" x2="558.4" y2="577" />
<line class="t" x1="496" y1="531.3" x2="628.5" y2="530.8" />
<line class="t" x1="525.6" y1="504.3" x2="539.6" y2="504.3" />
<line class="t" x1="532.6" y1="496.8" x2="532.6" y2="511.8" />
<line class="t" x1="577.6" y1="504.3" x2="591.6" y2="504.3" />
<line class="t" x1="584.6" y1="496.8" x2="584.6" y2="511.8" />
<line class="t" x1="525.6" y1="556.7" x2="539.6" y2="556.7" />
<line class="t" x1="532.6" y1="549.2" x2="532.6" y2="564.2" />
<line class="t" x1="577.6" y1="556.7" x2="591.6" y2="556.7" />
<line class="t" x1="584.6" y1="549.2" x2="584.6" y2="564.2" />
<line class="t" x1="473" y1="494" x2="521" y2="494" />
<line class="t" x1="473" y1="571.4" x2="521" y2="571.4" />
<line class="t" x1="475" y1="494" x2="475" y2="571.4" />
<polygon class="a" points="475,494 473.9,498.5 476.1,498.5"/>
<polygon class="a" points="475,571.4 473.9,566.9 476.1,566.9"/>
<text x="472.6" y="533" font-size="8.3" text-anchor="middle" transform="rotate(-90 472.6 533)" >UW</text>
<line class="t" x1="483.7" y1="523.4" x2="499.6" y2="523.4" />
<line class="t" x1="483.7" y1="540.7" x2="499.6" y2="540.7" />
<line class="t" x1="488.7" y1="523.4" x2="488.7" y2="540.7" />
<polygon class="a" points="488.7,523.4 487.59999999999997,527.9 489.8,527.9"/>
<polygon class="a" points="488.7,540.7 487.59999999999997,536.2 489.8,536.2"/>
<text x="485.4" y="532" font-size="8.3" text-anchor="middle" transform="rotate(-90 485.4 532)" >TD</text>
<line class="t" x1="499.6" y1="540.7" x2="499.6" y2="592" />
<line class="t" x1="516" y1="544.8" x2="516" y2="595" />
<line class="t" x1="601.6" y1="544.4" x2="601.6" y2="595" />
<line class="t" x1="618.1" y1="539.4" x2="618.1" y2="592" />
<line class="t" x1="499.6" y1="590.8" x2="618.1" y2="590.8" />
<polygon class="a" points="499.6,590.8 504.1,589.6999999999999 504.1,591.9"/>
<polygon class="a" points="516,590.8 511.5,589.6999999999999 511.5,591.9"/>
<polygon class="a" points="516,590.8 520.5,589.6999999999999 520.5,591.9"/>
<polygon class="a" points="601.6,590.8 597.1,589.6999999999999 597.1,591.9"/>
<polygon class="a" points="601.6,590.8 606.1,589.6999999999999 606.1,591.9"/>
<polygon class="a" points="618.1,590.8 613.6,589.6999999999999 613.6,591.9"/>
<text x="507.5" y="589.8" font-size="8.3" text-anchor="middle" >TL</text>
<text x="558.6" y="589.8" font-size="8.3" text-anchor="middle" >TM</text>
<text x="609.8" y="589.8" font-size="8.3" text-anchor="middle" >TL</text>
<line class="t" x1="602.2" y1="517" x2="615.6" y2="506.7" />
<polygon class="a" points="602,517.2 605,513.4 606.3,515.2"/>
<text x="605.5" y="511.3" font-size="8.3" text-anchor="middle" transform="rotate(-37 605.5 511.3)">R<tspan font-size="4.5" dy="1.5">1</tspan></text>
</svg>
</body></html>
